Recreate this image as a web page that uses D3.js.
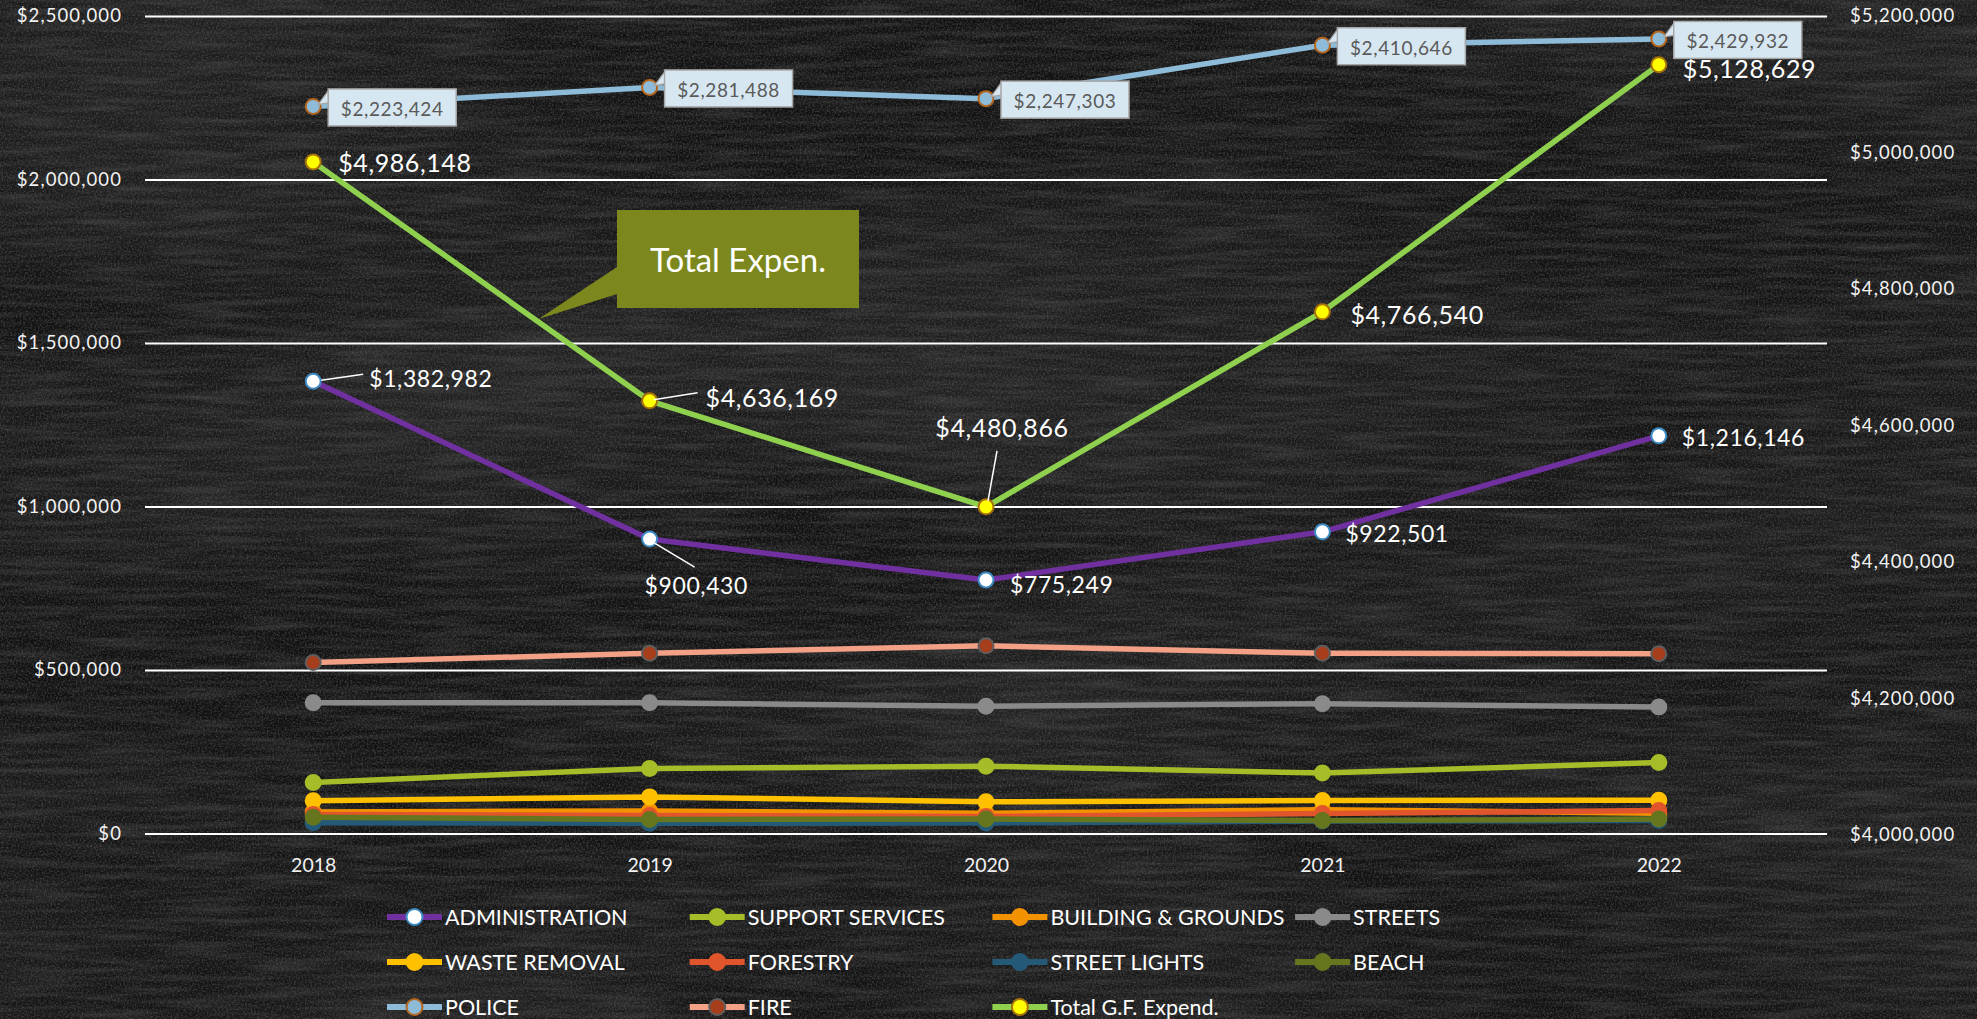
<!DOCTYPE html>
<html>
<head>
<meta charset="utf-8">
<script src="https://cdn.jsdelivr.net/npm/d3@7"></script>
<style>
  html, body { margin: 0; padding: 0; background: #131313; overflow: hidden; }
  svg { display: block; }
  text { font-family: Lato, "Open Sans", sans-serif; }
</style>
</head>
<body>
<svg id="chart" width="1977" height="1019"></svg>
<script>
// ---- data ----
const years = ["2018", "2019", "2020", "2021", "2022"];
const administration   = [1382982, 900430, 775249, 922501, 1216146];
const supportServices  = [156000, 199000, 206000, 185000, 217000];
const buildingGrounds  = [66000, 69000, 62000, 73000, 62000];
const streets          = [400000, 400000, 389000, 397000, 387000];
const wasteRemoval     = [100000, 112000, 97000, 101000, 102000];
const forestry         = [58000, 55000, 52000, 61000, 70000];
const streetLights     = [33000, 31000, 32000, 38000, 40000];
const beach            = [50000, 43000, 44000, 40000, 44000];
const police           = [2223424, 2281488, 2247303, 2410646, 2429932];
const fire             = [523000, 551000, 574000, 551000, 550000];
const totalExpend      = [4986148, 4636169, 4480866, 4766540, 5128629];

const leftTicks  = [0, 500000, 1000000, 1500000, 2000000, 2500000];
const rightTicks = [4000000, 4200000, 4400000, 4600000, 4800000, 5000000, 5200000];

// ---- series table (draw order = legend order) ----
const series = [
  { name: "ADMINISTRATION",     values: administration,  axis: "L", line: "#7030A0", fill: "#ffffff", stroke: "#3D8BC4" },
  { name: "SUPPORT SERVICES",   values: supportServices, axis: "L", line: "#A6BC28", fill: "#A6BC28", stroke: "#A6BC28" },
  { name: "BUILDING & GROUNDS", values: buildingGrounds, axis: "L", line: "#F39200", fill: "#F39200", stroke: "#F39200" },
  { name: "STREETS",            values: streets,         axis: "L", line: "#8A8A8A", fill: "#8A8A8A", stroke: "#8A8A8A" },
  { name: "WASTE REMOVAL",      values: wasteRemoval,    axis: "L", line: "#FFC000", fill: "#FFC000", stroke: "#FFC000" },
  { name: "FORESTRY",           values: forestry,        axis: "L", line: "#E0552B", fill: "#E0552B", stroke: "#E0552B" },
  { name: "STREET LIGHTS",      values: streetLights,    axis: "L", line: "#245A78", fill: "#245A78", stroke: "#245A78" },
  { name: "BEACH",              values: beach,           axis: "L", line: "#66761E", fill: "#66761E", stroke: "#66761E" },
  { name: "POLICE",             values: police,          axis: "L", line: "#8EBBD8", fill: "#8EBBD8", stroke: "#B4661E" },
  { name: "FIRE",               values: fire,            axis: "L", line: "#F2A086", fill: "#A63E1C", stroke: "#5E5E5E" },
  { name: "Total G.F. Expend.", values: totalExpend,     axis: "R", line: "#8FD14F", fill: "#FFFF00", stroke: "#A8720A" }
];

const svg = d3.select("#chart");
const W = 1977, H = 1019;
const plot = { left: 145, right: 1827, top: 16, bottom: 833.5 };

// ---- chalkboard background ----
const defs = svg.append("defs");
const f = defs.append("filter").attr("id", "chalk")
  .attr("x", 0).attr("y", 0).attr("width", W).attr("height", H)
  .attr("filterUnits", "userSpaceOnUse");
// fine horizontal chalk scratches
f.append("feTurbulence").attr("type", "fractalNoise")
  .attr("baseFrequency", "0.012 0.16").attr("numOctaves", 4).attr("seed", 7).attr("result", "streak");
f.append("feColorMatrix").attr("in", "streak").attr("type", "matrix")
  .attr("values", "0 0 0 0 1  0 0 0 0 1  0 0 0 0 1  0.85 0 0 0 -0.33").attr("result", "streakA");
// dusty grain
f.append("feTurbulence").attr("type", "fractalNoise")
  .attr("baseFrequency", "0.55").attr("numOctaves", 3).attr("seed", 3).attr("result", "grain");
f.append("feColorMatrix").attr("in", "grain").attr("type", "matrix")
  .attr("values", "0 0 0 0 1  0 0 0 0 1  0 0 0 0 1  1.3 0 0 0 -0.52").attr("result", "grainA");
// broad smudges
f.append("feTurbulence").attr("type", "fractalNoise")
  .attr("baseFrequency", "0.0015 0.004").attr("numOctaves", 2).attr("seed", 11).attr("result", "cloud");
f.append("feColorMatrix").attr("in", "cloud").attr("type", "matrix")
  .attr("values", "0 0 0 0 1  0 0 0 0 1  0 0 0 0 1  0.5 0 0 0 -0.18").attr("result", "cloudA");
const fm = f.append("feMerge");
fm.append("feMergeNode").attr("in", "cloudA");
fm.append("feMergeNode").attr("in", "streakA");
fm.append("feMergeNode").attr("in", "grainA");

svg.append("rect").attr("width", W).attr("height", H).attr("fill", "#111111");
svg.append("rect").attr("width", W).attr("height", H).attr("fill", "#fff")
  .attr("filter", "url(#chalk)").attr("opacity", 0.3);

// ---- scales ----
const x = d3.scalePoint().domain(years).range([plot.left, plot.right]).padding(0.5);
const yL = d3.scaleLinear().domain([0, 2500000]).range([plot.bottom, plot.top]);
const yR = d3.scaleLinear().domain([4000000, 5200000]).range([835, 16]);
const money = d3.format("$,.0f");

// ---- axes ----
const gL = svg.append("g").attr("transform", `translate(${plot.left},0)`)
  .call(d3.axisLeft(yL).tickValues(leftTicks).tickFormat(money)
    .tickSizeInner(-(plot.right - plot.left)).tickSizeOuter(0).tickPadding(23));
gL.select(".domain").remove();
gL.selectAll(".tick line").attr("stroke", "#ffffff").attr("stroke-width", 2.2);
gL.selectAll(".tick text").attr("fill", "#f2f2f2").attr("font-size", 18.5).attr("letter-spacing", 1.1);

const gR = svg.append("g").attr("transform", "translate(1850,0)")
  .call(d3.axisRight(yR).tickValues(rightTicks).tickFormat(money).tickSize(0).tickPadding(0));
gR.select(".domain").remove();
gR.selectAll(".tick text").attr("fill", "#f2f2f2").attr("font-size", 18.5).attr("letter-spacing", 1.1);

const gX = svg.append("g").attr("transform", `translate(0,${plot.bottom})`)
  .call(d3.axisBottom(x).tickSize(0).tickPadding(25));
gX.select(".domain").remove();
gX.selectAll(".tick text").attr("fill", "#f2f2f2").attr("font-size", 19.5);

// ---- lines & markers ----
const yOf = s => (s.axis === "R" ? yR : yL);
const gLines = svg.append("g");
series.forEach(s => {
  const y = yOf(s);
  const pts = years.map((yr, i) => [x(yr), y(s.values[i])]);
  const g = gLines.append("g");
  g.append("path").attr("d", d3.line()(pts))
    .attr("fill", "none").attr("stroke", s.line).attr("stroke-width", 5.5)
    .attr("stroke-linejoin", "round").attr("stroke-linecap", "round");
  g.selectAll("circle").data(pts).join("circle")
    .attr("cx", d => d[0]).attr("cy", d => d[1]).attr("r", 7.5)
    .attr("fill", s.fill).attr("stroke", s.stroke).attr("stroke-width", 2);
});

// ---- "Total Expen." callout ----
const tA = [x(years[0]), yR(totalExpend[0])], tB = [x(years[1]), yR(totalExpend[1])];
const tip = [tA[0] + (tB[0] - tA[0]) * 0.67, tA[1] + (tB[1] - tA[1]) * 0.67];
const call = svg.append("g");
call.append("path")
  .attr("d", `M617,267 L${tip[0]},${tip[1] - 3} L617,294 Z`).attr("fill", "#7C881E");
call.append("rect").attr("x", 617).attr("y", 210).attr("width", 242).attr("height", 98).attr("fill", "#7C881E");
call.append("text").attr("x", 738).attr("y", 259).attr("text-anchor", "middle")
  .attr("dominant-baseline", "central").attr("fill", "#fff").attr("font-size", 33).text("Total Expen.");

// ---- data labels ----
const labels = svg.append("g");
function plainLabels(values, scale, offs, size) {
  values.forEach((v, i) => {
    const px = x(years[i]), py = scale(v), o = offs[i];
    if (o.lead) {
      labels.append("line").attr("x1", px + o.lead[0]).attr("y1", py + o.lead[1])
        .attr("x2", px + o.lead[2]).attr("y2", py + o.lead[3])
        .attr("stroke", "#fff").attr("stroke-width", 1.5);
    }
    labels.append("text").attr("x", px + o.dx).attr("y", py + o.dy)
      .attr("text-anchor", o.anchor || "start").attr("dominant-baseline", "central")
      .attr("fill", "#fff").attr("font-size", size).attr("letter-spacing", 0.6).text(money(v));
  });
}
plainLabels(totalExpend, yR, [
  { dx: 25, dy: 0 },
  { dx: 56, dy: -4, lead: [4, -1, 48, -8] },
  { dx: 16, dy: -80, anchor: "middle", lead: [2, -6, 11, -56] },
  { dx: 28, dy: 2 },
  { dx: 24, dy: 3 }
], 25);
plainLabels(administration, yL, [
  { dx: 56, dy: -3, lead: [8, -1, 50, -7] },
  { dx: -5, dy: 46, lead: [5, 4, 45, 28] },
  { dx: 24, dy: 4 },
  { dx: 23, dy: 1 },
  { dx: 23, dy: 1 }
], 23);

// police values in callout boxes
police.forEach((v, i) => {
  const px = x(years[i]), py = yL(v);
  const bx = px + 15, bw = 128, bh = 37, by = py + 1 - bh / 2;
  const g = labels.append("g");
  g.append("path").attr("d", `M${bx},${by + 2} L${px + 5},${py - 2} L${bx},${by + 14}`)
    .attr("fill", "#D7E7F1").attr("stroke", "#A6A6A6").attr("stroke-width", 1.2);
  g.append("rect").attr("x", bx).attr("y", by).attr("width", bw).attr("height", bh)
    .attr("fill", "#D7E7F1").attr("stroke", "#A6A6A6").attr("stroke-width", 1.5);
  g.append("rect").attr("x", bx + 1).attr("y", by + 2).attr("width", 3).attr("height", 11).attr("fill", "#D7E7F1");
  g.append("text").attr("x", bx + bw / 2).attr("y", by + bh / 2 + 1)
    .attr("text-anchor", "middle").attr("dominant-baseline", "central")
    .attr("fill", "#5A5A5A").attr("font-size", 19).attr("letter-spacing", 0.6).text(money(v));
});

// ---- legend ----
const legend = svg.append("g");
const colW = 302.7, rowH = 45, lx0 = 387, ly0 = 917;
series.forEach((s, i) => {
  const cx = lx0 + (i % 4) * colW, cy = ly0 + Math.floor(i / 4) * rowH;
  const g = legend.append("g").attr("transform", `translate(${cx},${cy})`);
  g.append("line").attr("x1", 0).attr("x2", 55).attr("stroke", s.line).attr("stroke-width", 6);
  g.append("circle").attr("cx", 27.5).attr("r", 8).attr("fill", s.fill)
    .attr("stroke", s.stroke).attr("stroke-width", 2);
  g.append("text").attr("x", 58).attr("dominant-baseline", "central")
    .attr("fill", "#fff").attr("font-size", 21.5).text(s.name);
});
</script>
</body>
</html>
